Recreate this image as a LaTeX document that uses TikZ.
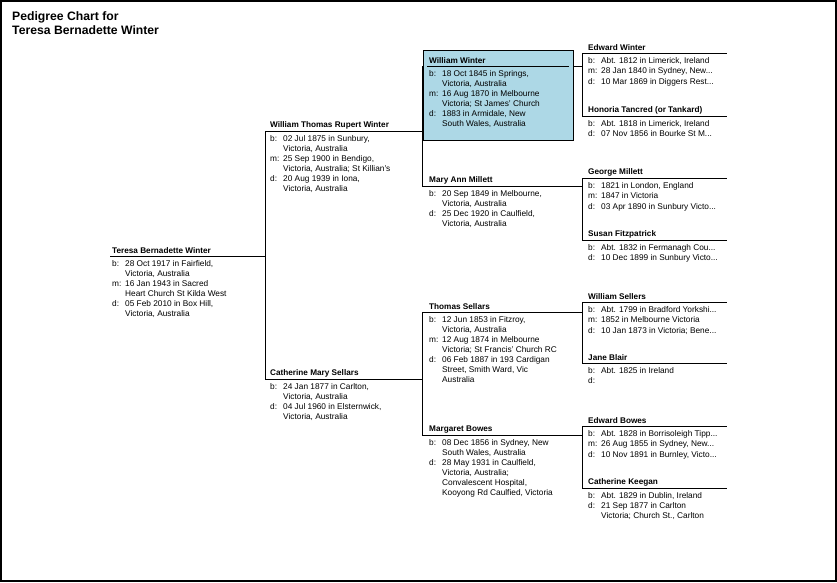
\documentclass[tikz,border=0pt]{standalone}
\usepackage{fontspec}
\setmainfont{Liberation Sans}
\begin{document}
\begin{tikzpicture}[x=1pt,y=-1pt,
  nm/.style={anchor=south west,font=\bfseries\fontsize{8.2}{9}\selectfont,inner sep=0pt,yshift=2pt},
  dt/.style={anchor=north west,font=\fontsize{8.3}{9.9}\selectfont,inner sep=0pt,align=left},
  ln/.style={line width=0.8pt}]
\fill[white] (0,0) rectangle (837,582);
\draw[line width=1.6pt] (1,1) rectangle (836,581);
\node[anchor=north west,font=\bfseries\fontsize{12.2}{14}\selectfont,align=left,inner sep=0pt] (title) at (12,11) {Pedigree Chart for\\Teresa Bernadette Winter};
\fill[fill={rgb,255:red,173;green,216;blue,230}] (423,50) rectangle (573,140);
\draw[ln] (423,50) rectangle (573,140);
\newcommand\dtab[1]{\begin{tabular}{@{}p{8.5pt}@{\hspace{4.5pt}}l@{}}#1\end{tabular}}
% rules
\foreach \a/\b/\y in {110/265/256, 265/422/131, 265/422/379, 427/569/66, 422/582/186, 422/582/312, 422/582/435,
  582/727/53, 582/727/116, 582/727/178, 582/727/240, 582/727/302, 582/727/363, 582/727/426, 582/727/488}
  \draw[ln] (\a,\y) -- (\b,\y);
\coordinate (c1a) at (265,131); \coordinate (c1b) at (265,379);
\coordinate (c2a) at (422,66); \coordinate (c2b) at (422,186);
\coordinate (c3a) at (422,312); \coordinate (c3b) at (422,435);
\draw[ln] (c1a) -- (c1b); \draw[ln] (c2a) -- (c2b); \draw[ln] (c3a) -- (c3b);
\draw[ln] (573,66) -- (582,66);
\foreach \t/\u in {53/116,178/240,302/363,426/488} \draw[ln] (582,\t) -- (582,\u);
% people
\node[nm] (p1) at (112,256) {Teresa Bernadette Winter};
\node[dt] (d1) at (112,259) {\dtab{b:& 28 Oct 1917 in Fairfield,\\ & Victoria, Australia\\[0.6pt] m:& 16 Jan 1943 in Sacred\\ & Heart Church St Kilda West\\[0.6pt] d:& 05 Feb 2010 in Box Hill,\\ & Victoria, Australia}};
\node[nm] (p2) at (270,131) {William Thomas Rupert Winter};
\node[dt] (d2) at (270,134) {\dtab{b:& 02 Jul 1875 in Sunbury,\\ & Victoria, Australia\\[0.6pt] m:& 25 Sep 1900 in Bendigo,\\ & Victoria, Australia; St Killian's\\[0.6pt] d:& 20 Aug 1939 in Iona,\\ & Victoria, Australia}};
\node[nm] (p3) at (270,379) {Catherine Mary Sellars};
\node[dt] (d3) at (270,382) {\dtab{b:& 24 Jan 1877 in Carlton,\\ & Victoria, Australia\\[0.6pt] d:& 04 Jul 1960 in Elsternwick,\\ & Victoria, Australia}};
\node[nm] (p4) at (429,66) {William Winter};
\node[dt] (d4) at (429,69) {\dtab{b:& 18 Oct 1845 in Springs,\\ & Victoria, Australia\\[0.6pt] m:& 16 Aug 1870 in Melbourne\\ & Victoria; St James' Church\\[0.6pt] d:& 1883 in Armidale, New\\ & South Wales, Australia}};
\node[nm] (p5) at (429,186) {Mary Ann Millett};
\node[dt] (d5) at (429,189) {\dtab{b:& 20 Sep 1849 in Melbourne,\\ & Victoria, Australia\\[0.6pt] d:& 25 Dec 1920 in Caulfield,\\ & Victoria, Australia}};
\node[nm] (p6) at (429,312) {Thomas Sellars};
\node[dt] (d6) at (429,315) {\dtab{b:& 12 Jun 1853 in Fitzroy,\\ & Victoria, Australia\\[0.6pt] m:& 12 Aug 1874 in Melbourne\\ & Victoria; St Francis' Church RC\\[0.6pt] d:& 06 Feb 1887 in 193 Cardigan\\ & Street, Smith Ward, Vic\\ & Australia}};
\node[nm] (p7) at (429,435) {Margaret Bowes};
\node[dt] (d7) at (429,438) {\dtab{b:& 08 Dec 1856 in Sydney, New\\ & South Wales, Australia\\[0.6pt] d:& 28 May 1931 in Caulfield,\\ & Victoria, Australia;\\ & Convalescent Hospital,\\ & Kooyong Rd Caulfied, Victoria}};
\node[nm] (p8) at (588,53) {Edward Winter};
\node[dt] (d8) at (588,56) {\dtab{b:& Abt. 1812 in Limerick, Ireland\\[0.6pt] m:& 28 Jan 1840 in Sydney, New...\\[0.6pt] d:& 10 Mar 1869 in Diggers Rest...}};
\node[nm] (p9) at (588,116) {Honoria Tancred (or Tankard)};
\node[dt] (d9) at (588,119) {\dtab{b:& Abt. 1818 in Limerick, Ireland\\[0.6pt] d:& 07 Nov 1856 in Bourke St M...}};
\node[nm] (p10) at (588,178) {George Millett};
\node[dt] (d10) at (588,181) {\dtab{b:& 1821 in London, England\\[0.6pt] m:& 1847 in Victoria\\[0.6pt] d:& 03 Apr 1890 in Sunbury Victo...}};
\node[nm] (p11) at (588,240) {Susan Fitzpatrick};
\node[dt] (d11) at (588,243) {\dtab{b:& Abt. 1832 in Fermanagh Cou...\\[0.6pt] d:& 10 Dec 1899 in Sunbury Victo...}};
\node[nm] (p12) at (588,302) {William Sellers};
\node[dt] (d12) at (588,305) {\dtab{b:& Abt. 1799 in Bradford Yorkshi...\\[0.6pt] m:& 1852 in Melbourne Victoria\\[0.6pt] d:& 10 Jan 1873 in Victoria; Bene...}};
\node[nm] (p13) at (588,363) {Jane Blair};
\node[dt] (d13) at (588,366) {\dtab{b:& Abt. 1825 in Ireland\\[0.6pt] d:& }};
\node[nm] (p14) at (588,426) {Edward Bowes};
\node[dt] (d14) at (588,429) {\dtab{b:& Abt. 1828 in Borrisoleigh Tipp...\\[0.6pt] m:& 26 Aug 1855 in Sydney, New...\\[0.6pt] d:& 10 Nov 1891 in Burnley, Victo...}};
\node[nm] (p15) at (588,488) {Catherine Keegan};
\node[dt] (d15) at (588,491) {\dtab{b:& Abt. 1829 in Dublin, Ireland\\[0.6pt] d:& 21 Sep 1877 in Carlton\\ & Victoria; Church St., Carlton}};
\end{tikzpicture}
\end{document}
